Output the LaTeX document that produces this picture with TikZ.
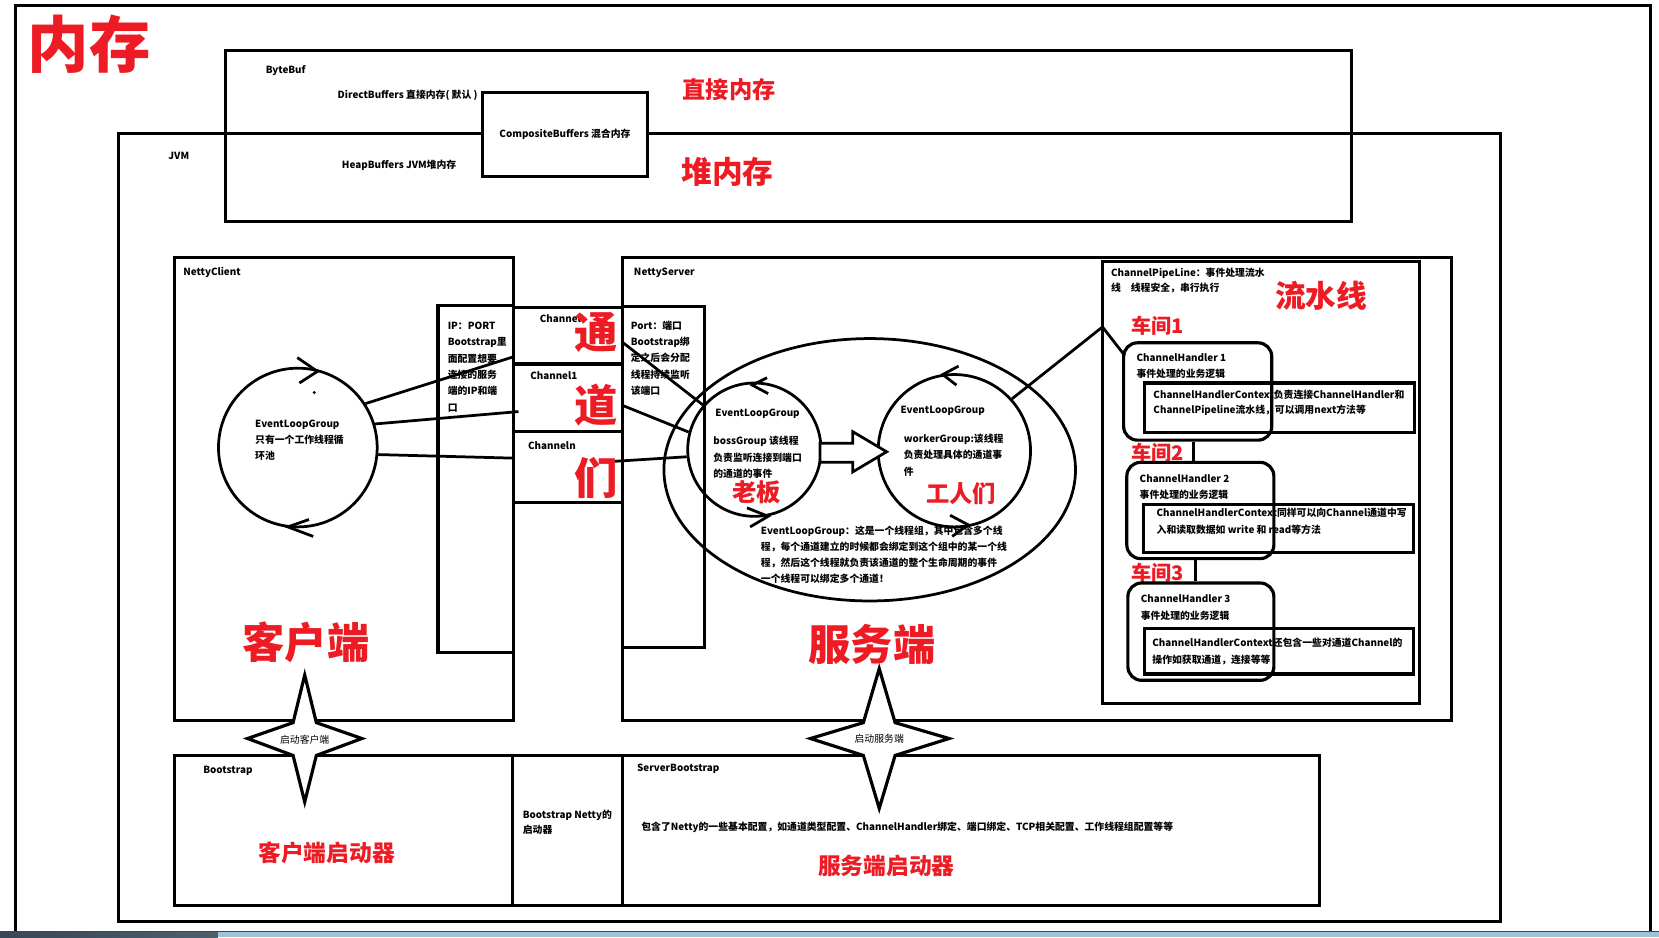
\documentclass[tikz,border=0pt]{standalone}
\usepackage{fontspec}
\setmainfont{Noto Sans CJK SC}
\usetikzlibrary{shapes.geometric}
\definecolor{inkred}{RGB}{237,28,36}
\definecolor{barblue}{RGB}{156,198,214}
\definecolor{barslate}{RGB}{58,70,84}
\newcommand\fsz[1]{\fontsize{#1}{#1}\selectfont}
\tikzset{
  frame/.style={draw, line width=3pt},
  txt/.style={inner sep=0pt, anchor=west, font=\bfseries\fsz{9.3}},
  para/.style={inner sep=0pt, anchor=north west, align=left,
    font=\bfseries\fontsize{9.3}{#1}\selectfont},
  para/.default=15.5,
  hot/.style={inner sep=0pt, anchor=west, text=inkred, font=\bfseries\fsz{#1}},
  ring/.style={circle, draw, line width=2.6pt, inner sep=0pt, minimum size=#1},
  wire/.style={line width=2.6pt},
  tick/.style={line width=2.6pt, line join=miter},
  starbox/.style={draw, fill=white, line width=3pt, line join=miter},
}
\begin{document}
\begin{tikzpicture}[x=1pt,y=-1pt]
\useasboundingbox (0,0) rectangle (1568,886);
\fill[white] (0,0) rectangle (1568,886);

% sheet border and task bar
\draw[line width=2.6pt] (15,880) -- (15,5) -- (1560,5) -- (1560,880);
\fill[barblue] (0,880) rectangle (1568,886);
\shade[left color=barslate, right color=barslate!80!barblue] (0,880) rectangle (206,886);
\draw[barslate, line width=0.6pt] (0,880.3) -- (1568,880.3);

\node[hot=58] (tMem) at (26,42) {内存};

% memory regions
\draw[frame] (112,126) rectangle (1418,871);
\draw[frame] (213,48) rectangle (1277,209);
\node[frame, fill=white, minimum width=156, minimum height=79, inner sep=0pt,
  font=\bfseries\fsz{9.3}] (comp) at (534,127) {CompositeBuffers 混合内存};
\node[txt] (tBB) at (251,67) {ByteBuf};
\node[txt] (tDB) at (319,90) {DirectBuffers 直接内存( 默认 )};
\node[txt] (tJVM) at (159,147) {JVM};
\node[txt] (tHB) at (323,156) {HeapBuffers JVM堆内存};
\node[hot=22] (tDir) at (645,85) {直接内存};
\node[hot=29] (tHeap) at (644,162) {堆内存};

% client side
\draw[frame] (165,243) rectangle (485,681);
\node[txt] (tNC) at (173,258) {NettyClient};
\draw[frame] (414,289) rectangle (485,617);
\node[para] (tIP) at (423,304) {IP：PORT\\Bootstrap里\\面配置想要\\连接的服务\\端的IP和端\\口};
\node[ring=150] (cc) at (281.5,423) {};
\node[para=15] (tCC) at (241,397) {EventLoopGroup\\只有一个工作线程循\\环池};
\draw[tick] (281,338) -- (300,351) -- (283,362);
\draw[tick] (296,507) -- (272,498) -- (292,491);
\fill (297,371) circle (1.6);
\node[hot=40] (tClient) at (229,607) {客户端};

% channels
\foreach \yy in {291,344,408,475} \draw[frame] (485,\yy) -- (588,\yy);
\node[txt] (tCh0) at (510,301) {Channel};
\node[txt] (tCh1) at (501,355) {Channel1};
\node[txt] (tChN) at (499,421) {Channeln};
\node[hot=41] (tTong) at (543,314) {通};
\node[hot=41] (tDao) at (543,383) {道};
\node[hot=41] (tMen) at (543,452) {们};
\coordinate (c1) at (486,337);
\coordinate (c2) at (490,389);
\coordinate (c3) at (485,433);
\draw[wire] (cc.33) -- (c1);
\draw[wire] (cc.17) -- (c2);
\draw[wire] (cc.-5) -- (c3);

% server side
\draw[frame] (588,243) rectangle (1372,681);
\node[txt] (tNS) at (599,258) {NettyServer};
\draw[frame] (588,290) rectangle (666,612);
\node[para] (tPort) at (596,303) {Port：端口\\Bootstrap绑\\定之后会分配\\线程持续监听\\该端口};
\node[ellipse, draw, line width=2.6pt, inner sep=0pt, minimum width=389, minimum height=248] (bigE) at (822,444) {};
\node[ring=126] (boss) at (713,425) {};
\node[ring=144] (worker) at (902,426) {};
\coordinate (s1) at (589,324);
\coordinate (s2) at (588,383);
\coordinate (s3) at (581,436);
\draw[wire] (s1) -- (boss.139);
\draw[wire] (s2) -- (boss.165);
\draw[wire] (s3) -- (boss.186);
\draw[tick] (725,357) -- (711,364) -- (726,372);
\draw[tick] (706,480) -- (726,488) -- (709,498);
\draw[tick] (906,346) -- (891,354) -- (904,364);
\draw[tick] (898,487) -- (915,496) -- (900,507);
\node[txt] (tBossH) at (676,391) {EventLoopGroup};
\node[para=15.5] (tBoss) at (674,412) {bossGroup 该线程\\负责监听连接到端口\\的通道的事件};
\node[hot=23] (tLB) at (692,465) {老板};
\node[txt] (tWorkH) at (851,388) {EventLoopGroup};
\node[para=15.5] (tWork) at (854,410) {workerGroup:该线程\\负责处理具体的通道事\\件};
\node[hot=22] (tGR) at (875,467) {工人们};
\filldraw[fill=white, line width=2.6pt, line join=miter]
  (775,419) -- (806,419) -- (806,408) -- (838,427) -- (806,446) -- (806,437) -- (775,437) -- cycle;
\node[para=15] (tELG) at (719,497) {EventLoopGroup：这是一个线程组，其中包含多个线\\程，每个通道建立的时候都会绑定到这个组中的某一个线\\程，然后这个线程就负责该通道的整个生命周期的事件\\一个线程可以绑定多个通道！};
\node[hot=40] (tServer) at (764,609) {服务端};

% pipeline
\draw[frame] (1042,247) rectangle (1342,665);
\node[para=14.5] (tPipe) at (1050,253) {ChannelPipeLine：事件处理流水\\线\quad 线程安全，串行执行};
\node[hot=29] (tFlow) at (1205,280) {流水线};
\coordinate (pin) at (1042,309);
\draw[wire, line join=miter] (worker.42) -- (pin) -- (1063,336);
\node[hot=19] (tW1) at (1069,308) {车间1};
\node[hot=19] (tW2) at (1069,428) {车间2};
\node[hot=19] (tW3) at (1069,541) {车间3};

\node[frame, rounded corners=13, minimum width=140, minimum height=92, inner sep=0pt] (h1) at (1132,370) {};
\node[frame, minimum width=255, minimum height=47, inner sep=0pt] (x1) at (1209.5,385.5) {};
\node[para] (tH1) at (1074,334) {ChannelHandler 1\\事件处理的业务逻辑};
\node[para=15] (tX1) at (1090,368) {ChannelHandlerContext负责连接ChannelHandler和\\ChannelPipeline流水线，可以调用next方法等};

\node[frame, rounded corners=13, minimum width=139, minimum height=91, inner sep=0pt] (h2) at (1134.5,482.5) {};
\node[frame, minimum width=255, minimum height=45, inner sep=0pt] (x2) at (1208.5,499.5) {};
\node[para] (tH2) at (1077,448) {ChannelHandler 2\\事件处理的业务逻辑};
\node[para=16] (tX2) at (1093,480) {ChannelHandlerContext同样可以向Channel通道中写\\入和读取数据如 write 和 read等方法};

\node[frame, rounded corners=13, minimum width=138, minimum height=92, inner sep=0pt] (h3) at (1135,597) {};
\node[frame, minimum width=254, minimum height=43, inner sep=0pt] (x3) at (1209,615.5) {};
\node[para] (tH3) at (1078,562) {ChannelHandler 3\\事件处理的业务逻辑};
\node[para=16] (tX3) at (1089,603) {ChannelHandlerContext还包含一些对通道Channel的\\操作如获取通道，连接等等};

\draw[wire] ([xshift=-4pt]h1.south) -- ([xshift=-6.5pt]h2.north);
\draw[wire] ([xshift=-4.5pt]h2.south) -- ([xshift=-5pt]h3.north);

% bootstrap row
\draw[frame] (165,714) rectangle (1247,856);
\draw[frame] (484,714) -- (484,856);
\draw[frame] (588,714) -- (588,856);
\node[txt] (tBS) at (192,729) {Bootstrap};
\node[para=15] (tBN) at (494,765) {Bootstrap Netty的\\启动器};
\node[txt] (tSBS) at (602,727) {ServerBootstrap};
\node[txt] (tCfg) at (606,782) {包含了Netty的一些基本配置，如通道类型配置、ChannelHandler绑定、端口绑定、TCP相关配置、工作线程组配置等等};
\node[hot=21.5] (tCB) at (244,806) {客户端启动器};
\node[hot=21.5] (tSB) at (773,818) {服务端启动器};

% start-up stars
\draw[starbox] (288,638) -- (299,683) -- (342,698) -- (299,714) -- (288,758)
  -- (277,714) -- (234,698) -- (277,683) -- cycle;
\node[inner sep=0pt, font=\fsz{9.3}] (sC) at (288,699) {启动客户端};
\draw[starbox] (831,632) -- (846,683) -- (897,698) -- (846,714) -- (831,764)
  -- (816,714) -- (766,698) -- (816,683) -- cycle;
\node[inner sep=0pt, font=\fsz{9.3}] (sS) at (831,698) {启动服务端};
\end{tikzpicture}
\end{document}
